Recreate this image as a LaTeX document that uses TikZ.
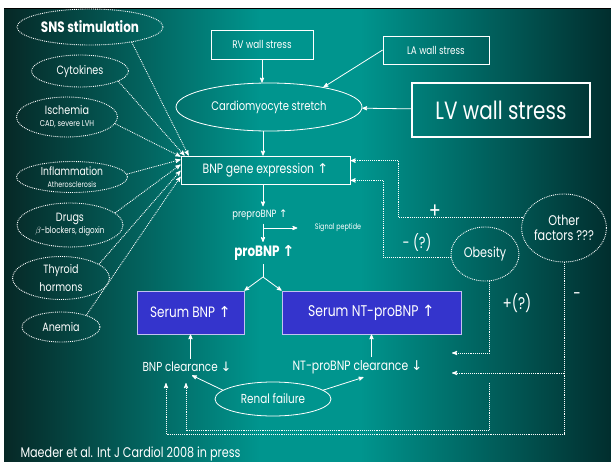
\documentclass[tikz,border=0pt]{standalone}
\usepackage{fontspec}
\setmainfont{Poppins}[FakeStretch=0.8]
\newfontfamily\symfont{DejaVu Sans}
\usetikzlibrary{arrows, shapes, calc}
\definecolor{slideDark}{HTML}{062826}
\definecolor{slideTeal}{HTML}{00958E}
\definecolor{slideRight}{HTML}{012C2C}
\definecolor{serumBlue}{HTML}{3434CC}
\newcommand{\fsz}[1]{\fontsize{#1}{#1}\selectfont}
\newcommand{\up}{{\symfont ↑}}
\newcommand{\down}{{\symfont ↓}}

\begin{document}
\begin{tikzpicture}[x=1pt,y=-1pt,>=stealth',
 every node/.style={text=white},
 factor node/.style={ellipse,draw=white,densely dotted,line width=0.9pt,inner sep=0pt,align=center},
 wall node/.style={rectangle,draw=white,line width=0.8pt,inner sep=0pt},
 serum node/.style={rectangle,draw=white!70!serumBlue,fill=serumBlue,line width=0.8pt,inner sep=0pt},
 link/.style={->,draw=white,line width=0.8pt},
 dotted link/.style={->,draw=white,densely dotted,line width=0.9pt}]

  \useasboundingbox (0,0) rectangle (611,461);
  \fill[white] (0,0) rectangle (611,461);
  \shade[left color=slideDark,right color=slideTeal] (4,8) rectangle (260,466);
  \fill[slideTeal] (259.5,8) rectangle (360.5,466);
  \shade[left color=slideTeal,right color=slideRight] (360,8) rectangle (615,466);
  \draw[black,line width=1.5pt] (4,8.5) -- (611,8.5);

  \node[factor node,minimum width=146,minimum height=36] (sns) at (90,27) {\fsz{15}\textbf{SNS stimulation}};
  \node[factor node,minimum width=97,minimum height=32] (cytokines) at (80,71) {\fsz{12}Cytokines};
  \node[factor node,minimum width=101,minimum height=40] (ischemia) at (67,117) {{\fsz{12}Ischemia}\\{\fsz{8.5}CAD, severe LVH}};
  \node[factor node,minimum width=111,minimum height=31] (inflammation) at (72,177) {{\fsz{11.5}Inflammation}\\{\fsz{8}Atherosclerosis}};
  \node[factor node,minimum width=106,minimum height=44] (drugs) at (70,225) {{\fsz{12}Drugs}\\{\fsz{9}$\beta$-blockers, digoxin}};
  \node[factor node,minimum width=97,minimum height=43] (thyroid) at (61,278) {{\fsz{12}Thyroid}\\[6pt]{\fsz{12}hormons}};
  \node[factor node,minimum width=78,minimum height=30] (anemia) at (61,327) {\fsz{12}Anemia};

  \node[wall node,minimum width=102,minimum height=29] (rv) at (262,44.5) {\fsz{11}RV wall stress};
  \node[wall node,minimum width=106,minimum height=28] (la) at (436,50) {\fsz{11}LA wall stress};
  \node[ellipse,draw=white,line width=0.8pt,inner sep=0pt,minimum width=186,minimum height=48] (stretch) at (269,107) {\fsz{12.5}Cardiomyocyte stretch};
  \node[wall node,line width=1.2pt,minimum width=178,minimum height=54] (lv) at (501,110) {\fsz{25}LV wall stress};
  \node[wall node,minimum width=169,minimum height=28] (gene) at (265.5,170) {\fsz{13.5}BNP gene expression \up};
  \node (prepro) at (260,215) {\fsz{10.5}preproBNP \up};
  \node (signal) at (338,228) {\fsz{8}Signal peptide};
  \node (probnp) at (264.5,253) {\fsz{15}\textbf{proBNP \up}};
  \node[serum node,minimum width=107,minimum height=43] (serumbnp) at (190.5,312.5) {\fsz{15}Serum BNP \up};
  \node[serum node,minimum width=179,minimum height=43] (serumnt) at (371.5,312.5) {\fsz{15.5}Serum NT-proBNP \up};
  \node (bnpcl) at (187,367) {\fsz{13}BNP clearance \down};
  \node (ntcl) at (357.5,367) {\fsz{13.5}NT-proBNP clearance \down};
  \node[ellipse,draw=white,line width=0.8pt,inner sep=0pt,minimum width=116,minimum height=34] (renal) at (273,399) {\fsz{13}Renal failure};
  \node[factor node,minimum width=74,minimum height=68] (other) at (564,228) {{\fsz{14}Other}\\[3pt]{\fsz{14}factors ???}};
  \node[factor node,minimum width=68,minimum height=54] (obesity) at (485,254) {\fsz{14}Obesity};

  \node (plus) at (435,212) {\fsz{22}+};
  \node (minusq) at (417,243) {\fsz{16}- (?)};
  \node (plusq) at (517,303) {\fsz{17}+(?)};
  \node (minus) at (577,296) {\fsz{17}-};
  \node[anchor=west] (source) at (17,454) {\fsz{14}Maeder et al. Int J Cardiol 2008 in press};

  \coordinate (split) at (263,228);
  \coordinate (fork) at (263,277);
  \coordinate (ntin1) at (452,353);
  \coordinate (ntin2) at (452,373);
  \coordinate (bnpin1) at (186,383);
  \coordinate (bnpin2) at (166,383);
  \coordinate (obgap) at (489,383);

  \draw[link] (rv.south) -- (rv.south |- stretch.north);
  \draw[link] (la.west) -- (stretch.20);
  \draw[link] (lv) -- (stretch);
  \draw[link] (stretch.south -| split) -- (gene.north -| split);
  \draw[link] (gene.south -| split) -- (prepro.north -| split);
  \draw[link] (prepro.south -| split) -- (probnp.north -| split);
  \draw[link] (split) -- ([xshift=-14pt]signal.west);
  \draw[white,line width=0.8pt] (probnp.south -| fork) -- (fork);
  \draw[link] (fork) -- (serumbnp.north east);
  \draw[link] (fork) -- (serumnt.north west);
  \draw[link] (bnpcl.north -| serumbnp.south) -- (serumbnp.south);
  \draw[link] (ntcl.north -| serumnt.south) -- (serumnt.south);
  \draw[link] (renal.170) -- ([xshift=5pt]bnpcl.south);
  \draw[link] (renal.10) -- ([xshift=6pt]ntcl.south);

  \foreach \s/\a/\dx/\dy in {sns/-20/8/0, cytokines/-15/4/0, ischemia/-8/0/1, inflammation/3/0/4, drugs/15/0/9, thyroid/20/0/15, anemia/25/0/21} {
   \draw[dotted link] (\s.\a) -- ($(gene.north west)+(\dx,\dy)$);}

  \draw[dotted link] (other.165) -| ([xshift=48pt,yshift=-5pt]gene.north east) -- ([yshift=-5pt]gene.north east);
  \draw[dotted link] (obesity.185) -| ([xshift=33pt,yshift=4pt]gene.south east) -- ([yshift=4pt]gene.south east);
  \draw[dotted link] (obesity.-80) |- (ntin1);
  \draw[dotted link] (obgap) |- ($(bnpin1)+(0,47)$) -- (bnpin1);
  \draw[dotted link] (other.south) |- ($(bnpin2)+(0,51)$) -- (bnpin2);
  \draw[dotted link] (other.south |- ntin2) -- (ntin2);
\end{tikzpicture}
\end{document}
